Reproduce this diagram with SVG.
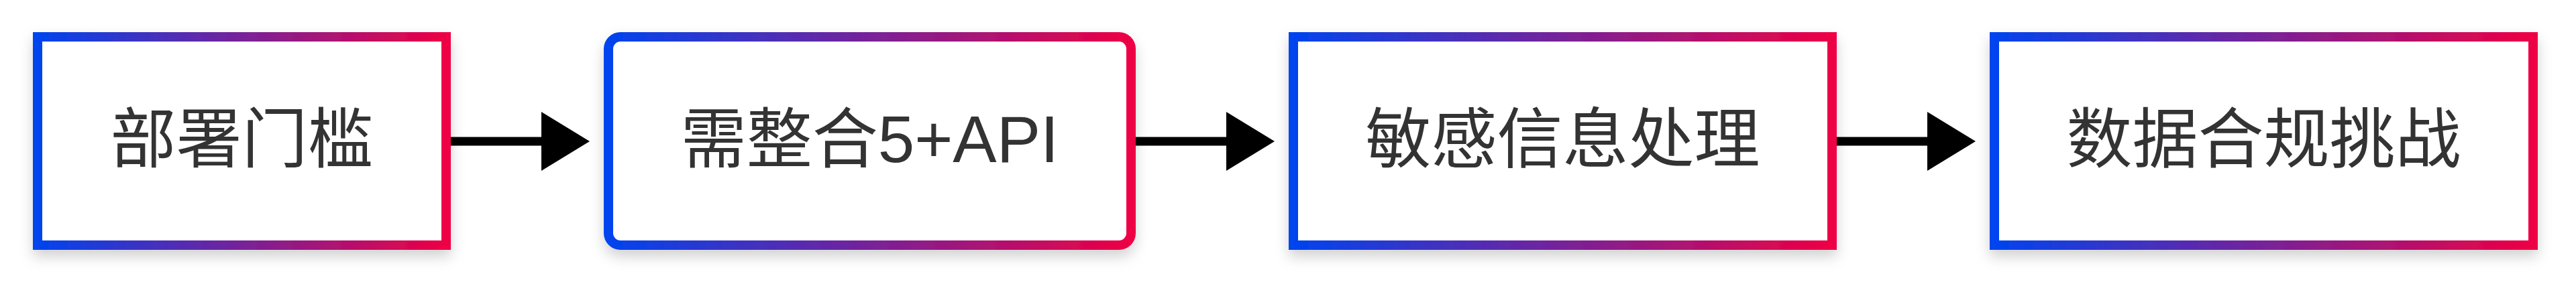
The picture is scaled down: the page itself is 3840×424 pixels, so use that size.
<svg xmlns="http://www.w3.org/2000/svg" width="3840" height="424" viewBox="0 0 3840 424">
<defs>
<linearGradient id="bg" x1="0" y1="0" x2="1" y2="0">
<stop offset="0" stop-color="#0044EE"/>
<stop offset="1" stop-color="#EE0044"/>
</linearGradient>
<filter id="sh" x="-10%" y="-20%" width="120%" height="150%">
<feDropShadow dx="0" dy="10" stdDeviation="10" flood-color="#000" flood-opacity="0.18"/>
</filter>
<marker id="ah" markerUnits="userSpaceOnUse" viewBox="0 0 72 88" markerWidth="72" markerHeight="88" refX="1" refY="44" orient="auto">
<path d="M0,0 L72,44 L0,88 Z" fill="#000"/>
</marker>
</defs>
<style>
.box{fill:#fff;stroke:url(#bg);stroke-width:14;filter:url(#sh)}
.lbl{font-family:"Liberation Sans","Noto Sans CJK SC",sans-serif;font-size:98px;fill:#333;text-anchor:middle}
.edge{stroke:#000;stroke-width:13;fill:none;marker-end:url(#ah)}
</style>
<rect width="3840" height="424" fill="#fff"/>
<g id="connectors">
<line class="edge" x1="672" y1="211" x2="808" y2="211"/>
<line class="edge" x1="1693" y1="211" x2="1829" y2="211"/>
<line class="edge" x1="2738" y1="211" x2="2874" y2="211"/>
</g>
<g id="n1">
<rect class="box" x="56" y="55" width="609" height="311"/>
<text class="lbl" x="360.5" y="242">部署门槛</text>
</g>
<g id="n2">
<rect class="box" x="907" y="55" width="779" height="311" rx="18" ry="18"/>
<text class="lbl" x="1296.5" y="242">需整合5+API</text>
</g>
<g id="n3">
<rect class="box" x="1928" y="55" width="803" height="311"/>
<text class="lbl" x="2329.5" y="242">敏感信息处理</text>
</g>
<g id="n4">
<rect class="box" x="2973" y="55" width="803" height="311"/>
<text class="lbl" x="3374.5" y="242">数据合规挑战</text>
</g>
</svg>
